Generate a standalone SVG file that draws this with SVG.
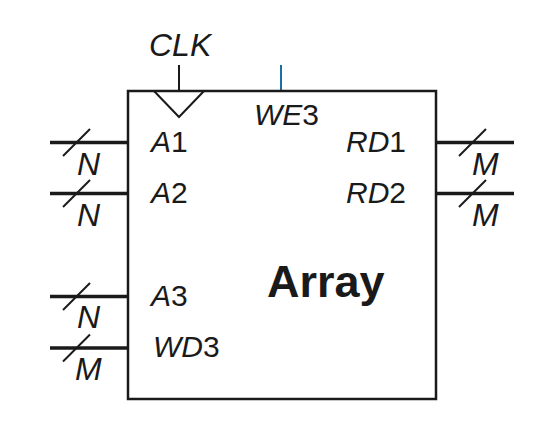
<svg xmlns="http://www.w3.org/2000/svg" width="542" height="424" viewBox="0 0 542 424">
<style>
text{font-family:"Liberation Sans",Arial,Helvetica,sans-serif;font-size:30px;fill:#1a1a1a}
.i{font-style:italic}
.w{font-size:32px}
.bus{stroke:#1a1a1a;stroke-width:3.5;fill:none}
.sl{stroke:#1a1a1a;stroke-width:2;fill:none}
.box{stroke:#1a1a1a;stroke-width:2.5;fill:#fff}
</style>
<rect width="542" height="424" fill="#fff"/>
<g id="connectors">
<line class="bus" x1="50" y1="142.5" x2="128" y2="142.5"/>
<line class="sl" x1="63" y1="156" x2="90" y2="129"/>
<line class="bus" x1="50" y1="193.5" x2="128" y2="193.5"/>
<line class="sl" x1="63" y1="207" x2="90" y2="180"/>
<line class="bus" x1="50" y1="296.5" x2="128" y2="296.5"/>
<line class="sl" x1="63" y1="310" x2="90" y2="283"/>
<line class="bus" x1="50" y1="348" x2="128" y2="348"/>
<line class="sl" x1="63" y1="361.5" x2="90" y2="334.5"/>
<line class="bus" x1="436" y1="142.5" x2="514" y2="142.5"/>
<line class="sl" x1="459" y1="156" x2="486" y2="129"/>
<line class="bus" x1="436" y1="193.5" x2="514" y2="193.5"/>
<line class="sl" x1="459" y1="207" x2="486" y2="180"/>
<line x1="179" y1="65" x2="179" y2="91" stroke="#1a1a1a" stroke-width="2"/>
<line x1="281" y1="65" x2="281" y2="91" stroke="#1b6fa8" stroke-width="2"/>
</g>
<g id="array">
<rect class="box" x="128" y="91" width="308" height="308"/>
<polyline points="154,91 179,117 204,91" fill="none" stroke="#1a1a1a" stroke-width="2"/>
<text x="267" y="297" style="font-weight:bold;font-size:45px">Array</text>
<text x="151" y="152"><tspan class="i">A</tspan>1</text>
<text x="151" y="203"><tspan class="i">A</tspan>2</text>
<text x="151" y="306"><tspan class="i">A</tspan>3</text>
<text x="153" y="357"><tspan class="i">WD</tspan>3</text>
<text x="254" y="125"><tspan class="i">WE</tspan>3</text>
<text x="346" y="152"><tspan class="i">RD</tspan>1</text>
<text x="346" y="203"><tspan class="i">RD</tspan>2</text>
</g>
<g id="labels">
<text class="i w" x="149" y="56">CLK</text>
<text class="i w" x="77" y="175">N</text>
<text class="i w" x="77" y="226">N</text>
<text class="i w" x="77" y="328">N</text>
<text class="i w" x="75" y="380">M</text>
<text class="i w" x="472" y="175">M</text>
<text class="i w" x="472" y="226">M</text>
</g>
</svg>
